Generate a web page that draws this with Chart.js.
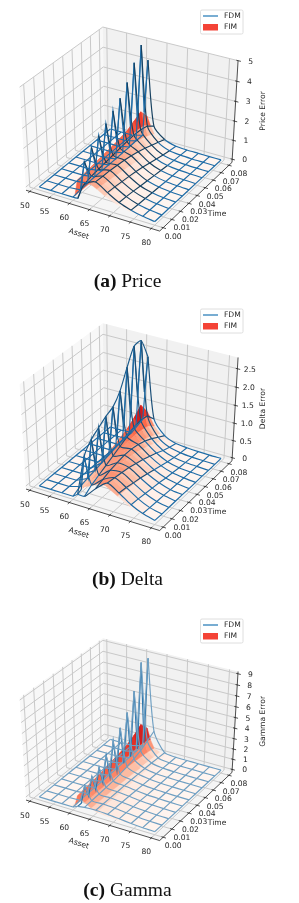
<!DOCTYPE html>
<html>
<head>
<meta charset="utf-8">
<script src="https://cdn.jsdelivr.net/npm/chart.js@4"></script>
<style>
  html, body { margin: 0; padding: 0; background: #fff; }
  body { position: relative; width: 299px; height: 903px; overflow: hidden; }
  canvas { position: absolute; left: 0; filter: blur(0.4px); }
  .cap { position: absolute; left: 0; width: 255px; text-align: center; font: 19.5px "Liberation Serif", serif; color: #111; line-height: 22px; }
</style>
</head>
<body>
<canvas id="price" width="299" height="300" style="top:0"></canvas>
<canvas id="delta" width="299" height="300" style="top:300px"></canvas>
<canvas id="gamma" width="299" height="300" style="top:600px"></canvas>
<div class="cap" style="top:270px"><b>(a)</b> Price</div>
<div class="cap" style="top:568px"><b>(b)</b> Delta</div>
<div class="cap" style="top:879px"><b>(c)</b> Gamma</div>
<script>
const assetTicks = [50, 55, 60, 65, 70, 75, 80]
const timeTicks = [0, 0.01, 0.02, 0.03, 0.04, 0.05, 0.06, 0.07, 0.08]
const priceTicks = [0, 1, 2, 3, 4, 5]
const deltaTicks = [0, 0.5, 1, 1.5, 2, 2.5]
const gammaTicks = [0, 1, 2, 3, 4, 5, 6, 7, 8, 9]

// wireframe grid, the saw line sits just right of the fourth asset column
const assets = [51.5, 54.4, 57.2, 60, 62.9, 65.7, 68.6, 71.4, 74.3, 77.1, 80]
const times = [0, 0.008, 0.016, 0.024, 0.032, 0.04, 0.048, 0.056, 0.064, 0.072, 0.08]
const ridgeAsset = 61.2
const fimAssets = [51.5, 57, 59.5, 60.5, 61.2, 62, 63, 64.5, 66, 68, 71, 74, 77, 80]

const priceFdm = [
  [0, 0, 0, 0, .85, 1.15, .78, .45, .24, .1, .02],
  [0, 0, 0, .05, .95, 1.12, .75, .42, .2, .09, .02],
  [0, 0, 0, .08, 1, 1.1, .7, .38, .18, .08, .02],
  [0, 0, 0, .1, 1.05, 1.05, .65, .32, .15, .06, .02],
  [0, 0, 0, .1, 1.1, 1, .58, .27, .12, .05, .01],
  [0, 0, 0, .1, 1.15, .92, .5, .22, .09, .04, .01],
  [0, 0, 0, .1, 1.2, .82, .4, .17, .07, .03, .01],
  [0, 0, 0, .12, 1.22, .7, .3, .12, .05, .02, 0],
  [0, 0, 0, .12, 1.2, .55, .2, .08, .03, .01, 0],
  [0, 0, 0, .15, 1.1, .4, .12, .05, .02, .01, 0],
  [0, 0, 0, .15, .8, .25, .06, .02, .01, 0, 0],
]
const pricePeaks = [0, 1.6, 2, 2.3, 2.6, 2.95, 3.3, 3.8, 4.5, 5.1, 4.1]
const priceLows = [.3, .7, .9, 1, 1.1, 1.2, 1.2, 1.3, 1.4, 1.6]
const priceFim = [
  [0, 0, .01, .1, .95, 1.05, 1.05, .95, .8, .55, .3, .15, .06, .02],
  [0, 0, .01, .1, 1, 1.08, 1.05, .92, .76, .5, .27, .13, .05, .02],
  [0, 0, .01, .1, 1.05, 1.1, 1.05, .88, .7, .45, .23, .11, .04, .01],
  [0, 0, .01, .1, 1.1, 1.12, 1.03, .83, .64, .4, .2, .09, .03, .01],
  [0, 0, .01, .12, 1.15, 1.14, 1, .77, .58, .34, .16, .07, .03, .01],
  [0, 0, .01, .12, 1.2, 1.15, .97, .7, .5, .28, .13, .05, .02, .01],
  [0, 0, .01, .13, 1.27, 1.15, .92, .62, .42, .22, .1, .04, .02, 0],
  [0, 0, .01, .14, 1.35, 1.15, .85, .52, .33, .16, .07, .03, .01, 0],
  [0, 0, .01, .15, 1.55, 1.15, .75, .42, .24, .11, .04, .02, .01, 0],
  [0, 0, .01, .17, 1.75, 1.1, .6, .3, .15, .06, .02, .01, 0, 0],
  [0, 0, .01, .15, 1.2, .8, .4, .18, .08, .03, .01, 0, 0, 0],
]

const deltaFdm = [
  [0, 0, 0, 0, .1, .42, .68, .5, .27, .12, .03],
  [0, 0, 0, .1, .25, .5, .65, .47, .25, .1, .02],
  [0, 0, 0, .15, .35, .58, .62, .42, .22, .09, .02],
  [0, 0, 0, .2, .45, .62, .58, .38, .19, .08, .02],
  [0, 0, 0, .25, .55, .66, .52, .32, .16, .06, .02],
  [0, 0, 0, .3, .65, .66, .46, .26, .12, .05, .01],
  [0, 0, 0, .35, .75, .62, .38, .2, .09, .04, .01],
  [0, 0, 0, .4, .85, .55, .3, .14, .06, .03, .01],
  [0, 0, 0, .45, .9, .45, .2, .09, .04, .02, 0],
  [0, 0, .02, .5, .85, .32, .12, .05, .02, .01, 0],
  [0, 0, .02, .5, .6, .2, .06, .03, .01, 0, 0],
]
const deltaPeaks = [.1, 1, 1.3, 1.45, 1.6, 1.7, 1.98, 2.46, 2.88, 2.88, 2.3]
const deltaLows = [.15, .3, .4, .5, .6, .7, .8, 1, 1.4, 1.4]
const deltaFim = [
  [0, 0, .01, .05, .28, .34, .38, .46, .56, .6, .4, .2, .08, .02],
  [0, 0, .01, .06, .34, .38, .42, .5, .58, .58, .37, .18, .07, .02],
  [0, 0, .01, .07, .4, .44, .48, .52, .58, .54, .34, .16, .06, .01],
  [0, 0, .01, .08, .46, .5, .52, .54, .56, .5, .3, .14, .05, .01],
  [0, 0, .01, .09, .52, .55, .55, .55, .54, .45, .26, .12, .04, .01],
  [0, 0, .01, .1, .58, .6, .58, .55, .5, .39, .22, .1, .03, .01],
  [0, 0, .01, .12, .66, .66, .62, .54, .46, .33, .17, .07, .03, 0],
  [0, 0, .01, .14, .75, .72, .64, .5, .39, .26, .12, .05, .02, 0],
  [0, 0, .02, .17, .9, .78, .62, .44, .3, .18, .08, .03, .01, 0],
  [0, 0, .02, .2, 1.1, .82, .56, .34, .2, .11, .05, .02, .01, 0],
  [0, 0, .02, .18, .75, .6, .4, .22, .12, .06, .02, .01, 0, 0],
]

const gammaFdm = [
  [0, 0, 0, 0, .3, .35, .3, .2, .1, .03, 0],
  [0, 0, 0, .05, .35, .35, .28, .18, .08, .03, 0],
  [0, 0, 0, .1, .4, .35, .26, .15, .07, .02, 0],
  [0, 0, 0, .1, .45, .35, .24, .13, .06, .02, 0],
  [0, 0, 0, .1, .5, .35, .2, .1, .05, .02, 0],
  [0, 0, 0, .15, .6, .35, .17, .08, .04, .01, 0],
  [0, 0, 0, .15, .75, .32, .14, .06, .03, .01, 0],
  [0, 0, 0, .2, .95, .3, .1, .05, .02, .01, 0],
  [0, 0, 0, .2, 1.2, .27, .08, .03, .01, 0, 0],
  [0, 0, 0, .25, 1.6, .22, .05, .02, .01, 0, 0],
  [0, 0, 0, .25, 2, .17, .03, .01, 0, 0, 0],
]
const gammaPeaks = [.2, 1.6, 1.9, 2.2, 2.8, 3.6, 4.3, 5.2, 6.7, 8.8, 8.7]
const gammaLows = [.2, .3, .3, .4, .4, .5, .6, .7, .9, 1]
const gammaFim = [
  [0, 0, .02, .2, 1.2, 1, .8, .42, .2, .1, .05, .02, .01, 0],
  [0, 0, .02, .22, 1.3, 1.05, .8, .4, .18, .09, .04, .02, .01, 0],
  [0, 0, .02, .25, 1.4, 1.1, .8, .38, .16, .08, .04, .02, .01, 0],
  [0, 0, .02, .28, 1.5, 1.15, .78, .36, .14, .07, .03, .01, 0, 0],
  [0, 0, .03, .3, 1.65, 1.2, .76, .33, .12, .06, .03, .01, 0, 0],
  [0, 0, .03, .33, 1.8, 1.25, .74, .3, .1, .05, .02, .01, 0, 0],
  [0, 0, .03, .36, 1.95, 1.3, .72, .26, .08, .04, .02, 0, 0, 0],
  [0, 0, .04, .4, 2.15, 1.35, .68, .22, .07, .03, .01, 0, 0, 0],
  [0, 0, .04, .45, 2.5, 1.4, .6, .18, .05, .02, .01, 0, 0, 0],
  [0, 0, .05, .5, 3, 1.4, .5, .13, .04, .01, 0, 0, 0, 0],
  [0, 0, .04, .4, 2.1, 1.1, .34, .08, .02, .01, 0, 0, 0, 0],
]

const reds = [[255,245,240],[254,224,210],[252,187,161],[252,146,114],[251,106,74],[239,59,44],[203,24,29],[165,15,21],[103,0,13]]

const assetLim = [49, 82]
const timeLim = [-0.004, 0.084]
const ELEV = 36 * Math.PI / 180
const AZIM = -60 * Math.PI / 180
const DIST = 10

const redColor = (t) => {
  const v = Math.max(0, Math.min(0.999, t)) * (reds.length - 1)
  const i = Math.floor(v)
  const f = v - i
  const c = reds[i].map((s, k) => Math.round(s + (reds[i + 1][k] - s) * f))
  return `rgb(${c[0]},${c[1]},${c[2]})`
}

// same camera maths as a default mplot3d axes, Chart.js only has the 2d plane
const makeProjection = (zLim, dy, sy) => {
  const n = [Math.cos(ELEV) * Math.cos(AZIM), Math.cos(ELEV) * Math.sin(AZIM), Math.sin(ELEV)]
  const u = [0.866, 0.5, 0]
  const v = [n[1] * u[2] - n[2] * u[1], n[2] * u[0] - n[0] * u[2], n[0] * u[1] - n[1] * u[0]]
  const dot = (a, b) => a[0] * b[0] + a[1] * b[1] + a[2] * b[2]
  const unit = (bx, by, bz) => {
    const p = [bx - 0.5, by - 0.5, bz - 0.5]
    const s = DIST / (DIST - dot(n, p))
    return { x: 130.5 + 155.2 * dot(u, p) * s, y: 231 + dy - (104.6 + 126.5 * dot(v, p) * s) * sy, depth: dot(n, p) }
  }
  const data = (a, t, z) => unit(
    (a - assetLim[0]) / (assetLim[1] - assetLim[0]),
    (t - timeLim[0]) / (timeLim[1] - timeLim[0]),
    (z - zLim[0]) / (zLim[1] - zLim[0]))
  return { unit, data }
}

const poly = (points, extra) => ({
  data: points, showLine: true, pointRadius: 0, borderWidth: 1, tension: 0, fill: false, clip: false, ...extra,
})

const buildDatasets = (panel, proj) => {
  const { unit, data } = proj
  const back = []
  const shape = (pts, color) => poly([...pts, pts[0]], { fill: 'shape', backgroundColor: color, borderWidth: 0, borderColor: color })

  // panes
  back.push(shape([unit(0, 0, 0), unit(0, 1, 0), unit(0, 1, 1), unit(0, 0, 1)], '#f8f8f8'))
  back.push(shape([unit(0, 1, 0), unit(1, 1, 0), unit(1, 1, 1), unit(0, 1, 1)], '#f1f1f1'))
  back.push(shape([unit(0, 0, 0), unit(1, 0, 0), unit(1, 1, 0), unit(0, 1, 0)], '#f5f5f5'))

  // grid
  const grid = { borderColor: '#c9c9c9', borderWidth: 1 }
  const ax = (a) => (a - assetLim[0]) / (assetLim[1] - assetLim[0])
  const tx = (t) => (t - timeLim[0]) / (timeLim[1] - timeLim[0])
  const zx = (z) => (z - panel.zLim[0]) / (panel.zLim[1] - panel.zLim[0])
  assetTicks.forEach(a => back.push(poly([unit(ax(a), 0, 0), unit(ax(a), 1, 0), unit(ax(a), 1, 1)], grid)))
  timeTicks.forEach(t => back.push(poly([unit(1, tx(t), 0), unit(0, tx(t), 0), unit(0, tx(t), 1)], grid)))
  panel.zTicks.forEach(z => back.push(poly([unit(0, 0, zx(z)), unit(0, 1, zx(z)), unit(1, 1, zx(z))], grid)))

  // axis lines and ticks
  const axis = { borderColor: '#222', borderWidth: 0.8 }
  back.push(poly([unit(0, 0, 0), unit(1, 0, 0), unit(1, 1, 0), unit(1, 1, 1)], axis))
  assetTicks.forEach(a => back.push(poly([unit(ax(a), -0.02, 0), unit(ax(a), 0.012, 0)], axis)))
  timeTicks.forEach(t => back.push(poly([unit(1.02, tx(t), 0), unit(0.988, tx(t), 0)], axis)))
  panel.zTicks.forEach(z => back.push(poly([unit(1.02, 1, zx(z)), unit(0.988, 1, zx(z))], axis)))

  // FIM surface, far cells first
  const cells = []
  for (let r = 0; r < times.length - 1; r++) {
    for (let c = 0; c < fimAssets.length - 1; c++) {
      const f = panel.fim
      const mean = (f[r][c] + f[r][c + 1] + f[r + 1][c] + f[r + 1][c + 1]) / 4
      const isWall = (f[r][c + 1] - f[r][c]) / panel.vmax > 0.25
      const shade = isWall ? panel.wall * Math.sqrt(mean / panel.vmax) : Math.pow(mean / panel.vmax, panel.gamma)
      const corners = [data(fimAssets[c], times[r], f[r][c]), data(fimAssets[c + 1], times[r], f[r][c + 1]),
        data(fimAssets[c + 1], times[r + 1], f[r + 1][c + 1]), data(fimAssets[c], times[r + 1], f[r + 1][c])]
      const depth = corners.reduce((s, p) => s + p.depth, 0) / 4
      cells.push({ depth, ds: poly([...corners, corners[0]], { fill: 'shape', backgroundColor: redColor(shade), borderColor: redColor(shade), borderWidth: 0.4 }) })
    }
  }
  cells.sort((p, q) => p.depth - q.depth).forEach(c => back.push(c.ds))

  // FDM wireframe
  const wire = (pts, dark, tension) => poly(pts, {
    borderColor: panel.blue, borderWidth: 1.15, tension: tension || 0,
    segment: { borderColor: s => (dark(s.p0DataIndex, s.p1DataIndex) ? panel.dark : panel.blue) },
  })
  const f = panel.fdm
  // lines of constant asset, running in time
  assets.forEach((a, c) => {
    const pts = times.map((t, r) => data(a, t, f[r][c]))
    back.push(wire(pts, (i) => c >= 4 && f[i][c] > panel.darkAt))
  })
  // zigzag along the strike
  const saw = []
  times.forEach((t, r) => {
    saw.push(data(ridgeAsset, t, panel.peaks[r]))
    if (r < times.length - 1) saw.push(data(ridgeAsset, t + (times[r + 1] - t) / 2, panel.lows[r]))
  })
  back.push(poly(saw, { borderColor: panel.saw, borderWidth: 1.15 }))
  if (panel.envelope) back.push(poly(times.map((t, r) => data(ridgeAsset, t, panel.peaks[r])), { borderColor: panel.saw, borderWidth: 1.15, tension: 0.2 }))
  // lines of constant time, left part straight, right part rounded
  times.forEach((t, r) => {
    const left = assets.slice(0, 4).map((a, c) => data(a, t, f[r][c]))
    left.push(data(ridgeAsset, t, panel.peaks[r]))
    back.push(wire(left, () => false))
    const right = [data(ridgeAsset, t, panel.peaks[r])]
    assets.slice(4).forEach((a, c) => right.push(data(a, t, f[r][c + 4])))
    back.push(wire(right, (i, j) => j >= 1 && f[r][j + 3] > panel.darkAt, 0.25))
  })

  return back.reverse() // chart.js paints dataset 0 last
}

const textPlugin = (panel, proj) => ({
  id: 'axisText',
  afterDatasetsDraw(chart) {
    const { ctx, scales } = chart
    const px = (p, dx, dy) => [scales.x.getPixelForValue(p.x) + dx, scales.y.getPixelForValue(p.y) + dy]
    const ax = (a) => (a - assetLim[0]) / (assetLim[1] - assetLim[0])
    const tx = (t) => (t - timeLim[0]) / (timeLim[1] - timeLim[0])
    const zx = (z) => (z - panel.zLim[0]) / (panel.zLim[1] - panel.zLim[0])
    ctx.save()
    ctx.fillStyle = '#262626'
    ctx.font = '7.6px "DejaVu Sans"'
    ctx.textAlign = 'center'
    ctx.textBaseline = 'middle'
    assetTicks.forEach(a => ctx.fillText(String(a), ...px(proj.unit(ax(a), 0, 0), -5, 14.5)))
    timeTicks.forEach(t => ctx.fillText(t.toFixed(2), ...px(proj.unit(1, tx(t), 0), 10, 9)))
    panel.zTicks.forEach(z => ctx.fillText(String(z === 0 ? '0' : panel.zFmt(z)), ...px(proj.unit(1, 1, zx(z)), 12.5, 1)))

    let [lx, ly] = px(proj.unit(0.42, 0, 0), -2, 27)
    ctx.save(); ctx.translate(lx, ly); ctx.rotate(18 * Math.PI / 180); ctx.fillText('Asset', 0, 0); ctx.restore()
    ;[lx, ly] = px(proj.unit(1, 0.5, 0), 20, 18)
    ctx.fillText('Time', lx, ly)
    ;[lx, ly] = px(proj.unit(1, 1, 0.52), 28, 0)
    ctx.save(); ctx.translate(lx, ly); ctx.rotate(-Math.PI / 2); ctx.fillText(panel.zLabel, 0, 0); ctx.restore()

    // legend box
    const top = panel.legendTop
    ctx.strokeStyle = '#d6d6d6'
    ctx.fillStyle = '#fff'
    ctx.lineWidth = 0.8
    ctx.beginPath(); ctx.roundRect(200.5, top, 42.5, 24, 1.5); ctx.fill(); ctx.stroke()
    ctx.strokeStyle = '#1f77b4'
    ctx.lineWidth = 1.2
    ctx.beginPath(); ctx.moveTo(203, top + 6); ctx.lineTo(218, top + 6); ctx.stroke()
    ctx.fillStyle = '#f44336'
    ctx.fillRect(203, top + 14, 15, 6.5)
    ctx.fillStyle = '#262626'
    ctx.textAlign = 'left'
    ctx.fillText('FDM', 224, top + 6.5)
    ctx.fillText('FIM', 224, top + 17.5)
    ctx.restore()
  },
})

const panels = [
  { id: 'price', fdm: priceFdm, peaks: pricePeaks, lows: priceLows, fim: priceFim, zTicks: priceTicks, zLim: [-0.17, 5], zLabel: 'Price Error',
    zFmt: z => String(z), dy: 0, sy: 1, vmax: 1.9, gamma: 1.5, wall: 0.95, darkAt: 0.12, blue: '#1f6ca6', dark: '#16405f', saw: '#1f6ca6', legendTop: 10, envelope: false },
  { id: 'delta', fdm: deltaFdm, peaks: deltaPeaks, lows: deltaLows, fim: deltaFim, zTicks: deltaTicks, zLim: [-0.09, 2.8], zLabel: 'Delta Error',
    zFmt: z => z.toFixed(1), dy: -0.5, sy: 1.016, vmax: 1.1, gamma: 1.5, wall: 0.95, darkAt: 0.3, blue: '#1f6ca6', dark: '#1b4f78', saw: '#1a5a8a', legendTop: 9, envelope: true },
  { id: 'gamma', fdm: gammaFdm, peaks: gammaPeaks, lows: gammaLows, fim: gammaFim, zTicks: gammaTicks, zLim: [-0.3, 9.2], zLabel: 'Gamma Error',
    zFmt: z => String(z), dy: 9.5, sy: 0.992, vmax: 3.2, gamma: 0.75, wall: 0.95, darkAt: 99, blue: '#6f9fc2', dark: '#6f9fc2', saw: '#2a74ab', legendTop: 19, envelope: false },
]

panels.forEach((panel) => {
  const proj = makeProjection(panel.zLim, panel.dy, panel.sy)
  new Chart(document.getElementById(panel.id), {
    type: 'scatter',
    data: { datasets: buildDatasets(panel, proj) },
    plugins: [textPlugin(panel, proj)],
    options: {
      responsive: false,
      animation: false,
      layout: { padding: 0 },
      plugins: { legend: { display: false }, tooltip: { enabled: false } },
      scales: {
        x: { type: 'linear', display: false, min: 0, max: 299 },
        y: { type: 'linear', display: false, min: 0, max: 300, reverse: true },
      },
    },
  })
})
</script>
</body>
</html>
